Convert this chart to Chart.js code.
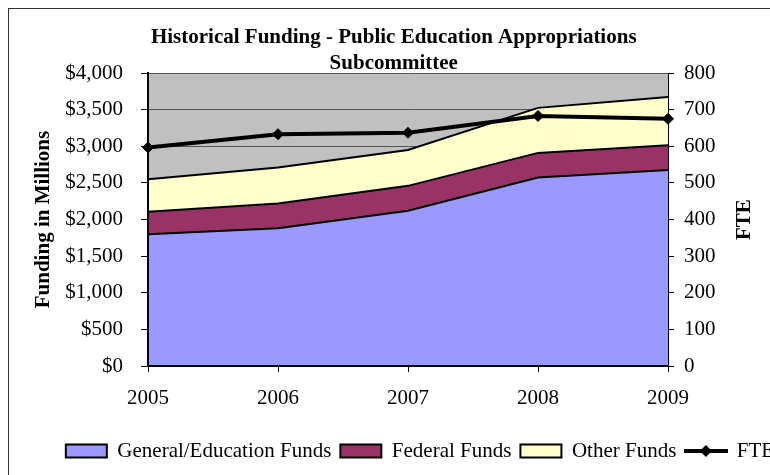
<!DOCTYPE html>
<html>
<head>
<meta charset="utf-8">
<title>Historical Funding - Public Education Appropriations Subcommittee</title>
<script src="https://cdn.jsdelivr.net/npm/chart.js@4.4.1/dist/chart.umd.min.js"></script>
<style>
  html, body { margin: 0; padding: 0; background: #fff; overflow: hidden; }
  #frame { position: absolute; left: 8px; top: 8px; width: 900px; height: 600px; border: 1px solid #333; }
  #funding-chart { position: absolute; left: 0; top: 0; }
</style>
</head>
<body>
<div id="frame"></div>
<canvas id="funding-chart" width="840" height="475"></canvas>
<script>
// Chart data (millions of dollars, FTE on right axis)
const years = ['2005', '2006', '2007', '2008', '2009'];
const generalFunds = [1800, 1880, 2120, 2575, 2675];
const federalFunds = [305, 340, 340, 335, 340];
const otherFunds = [445, 490, 490, 615, 660];
const fte = [597, 633, 637, 683, 675];

const titleLines = ['Historical Funding - Public Education Appropriations', 'Subcommittee'];
const leftAxisTitle = 'Funding in Millions';
const rightAxisTitle = 'FTE';

Chart.defaults.font.family = "'Liberation Serif', 'Times New Roman', serif";
Chart.defaults.font.size = 21;
Chart.defaults.color = '#000';

// Gray plot area like the old Excel chart
const plotBackground = {
  id: 'plotBackground',
  beforeDraw(chart) {
    const { ctx, chartArea: a } = chart;
    ctx.save();
    ctx.fillStyle = '#c0c0c0';
    ctx.fillRect(a.left, a.top, a.right - a.left, a.bottom - a.top);
    ctx.restore();
  }
};

// Right axis title reads bottom to top, Chart.js rotates it the other way
const fteAxisTitle = {
  id: 'fteAxisTitle',
  afterDraw(chart) {
    const { ctx, chartArea: a, scales } = chart;
    ctx.save();
    ctx.translate(scales.y1.left + 76.5, (a.top + a.bottom) / 2);
    ctx.rotate(-Math.PI / 2);
    ctx.font = "bold 21px 'Liberation Serif', serif";
    ctx.fillStyle = '#000';
    ctx.textAlign = 'center';
    ctx.textBaseline = 'middle';
    ctx.fillText(rightAxisTitle, 0, 0);
    ctx.restore();
  }
};

// Legend marker for the FTE line: line with a diamond
function lineDiamondIcon() {
  const c = document.createElement('canvas');
  c.width = 44;
  c.height = 14;
  const g = c.getContext('2d');
  g.strokeStyle = '#000';
  g.lineWidth = 4;
  g.beginPath();
  g.moveTo(0, 7);
  g.lineTo(44, 7);
  g.stroke();
  g.fillStyle = '#000';
  g.beginPath();
  g.moveTo(22, 1);
  g.lineTo(28, 7);
  g.lineTo(22, 13);
  g.lineTo(16, 7);
  g.closePath();
  g.fill();
  return c;
}
const fteIcon = lineDiamondIcon();

const titlePad = '\u00a0'.repeat(10);

const areaStyle = {
  yAxisID: 'y',
  borderColor: '#000',
  borderWidth: 2,
  pointRadius: 0,
  pointHoverRadius: 0,
  pointStyle: 'rect',
  pointBorderWidth: 2,
  tension: 0
};

new Chart(document.getElementById('funding-chart'), {
  type: 'line',
  data: {
    labels: years,
    datasets: [
      { ...areaStyle, label: 'General/Education Funds', data: generalFunds, fill: 'origin', backgroundColor: '#9999ff' },
      { ...areaStyle, label: 'Federal Funds', data: federalFunds, fill: '-1', backgroundColor: '#993366' },
      { ...areaStyle, label: 'Other Funds', data: otherFunds, fill: '-1', backgroundColor: '#ffffcc' },
      {
        label: 'FTE',
        data: fte,
        yAxisID: 'y1',
        order: -1,
        fill: false,
        borderColor: '#000',
        backgroundColor: '#000',
        borderWidth: 4,
        pointStyle: 'rectRot',
        pointRadius: 5.5,
        pointBorderWidth: 1,
        clip: false,
        tension: 0
      }
    ]
  },
  options: {
    responsive: false,
    animation: false,
    events: [],
    layout: {
      padding: { left: 0, right: 0, top: 0, bottom: 3.5 }
    },
    plugins: {
      title: {
        display: true,
        text: titleLines.map(t => t + titlePad),
        color: '#000',
        font: { size: 21, weight: 'bold', lineHeight: 1.24 },
        padding: { top: 25, bottom: -4 }
      },
      legend: {
        position: 'bottom',
        labels: {
          usePointStyle: true,
          pointStyleWidth: 41,
          boxHeight: 13,
          padding: 9,
          color: '#000',
          font: { size: 21 },
          sort: (a, b) => a.datasetIndex - b.datasetIndex,
          generateLabels(chart) {
            const items = Chart.defaults.plugins.legend.labels.generateLabels(chart);
            items.forEach(item => {
              if (item.text === 'FTE') item.pointStyle = fteIcon;
            });
            return items;
          }
        }
      },
      tooltip: { enabled: false }
    },
    scales: {
      x: {
        grid: { drawOnChartArea: false, tickLength: 6, tickColor: '#000' },
        border: { color: '#000', width: 2, z: 1 },
        ticks: { padding: 14, color: '#000', maxRotation: 0, autoSkip: false },
        afterFit(scale) { scale.height = 65.5; }
      },
      y: {
        stacked: true,
        min: 0,
        max: 4000,
        ticks: {
          stepSize: 500,
          padding: 18,
          color: '#000',
          callback: (value) => '$' + value.toLocaleString('en-US')
        },
        grid: { color: '#555', tickColor: '#000', tickLength: 7 },
        border: { color: '#000', width: 2, z: 1 },
        title: {
          display: true,
          text: leftAxisTitle,
          color: '#000',
          font: { size: 21, weight: 'bold' },
          padding: { top: 31, bottom: 0 }
        },
        afterFit(scale) { scale.width = 148; }
      },
      y1: {
        position: 'right',
        min: 0,
        max: 800,
        ticks: { stepSize: 100, padding: 10, color: '#000' },
        grid: { drawOnChartArea: false, tickColor: '#000', tickLength: 6 },
        border: { color: '#000', width: 1, z: 1 },
        afterFit(scale) { scale.width = 172; }
      }
    }
  },
  plugins: [plotBackground, fteAxisTitle]
});
</script>
</body>
</html>
